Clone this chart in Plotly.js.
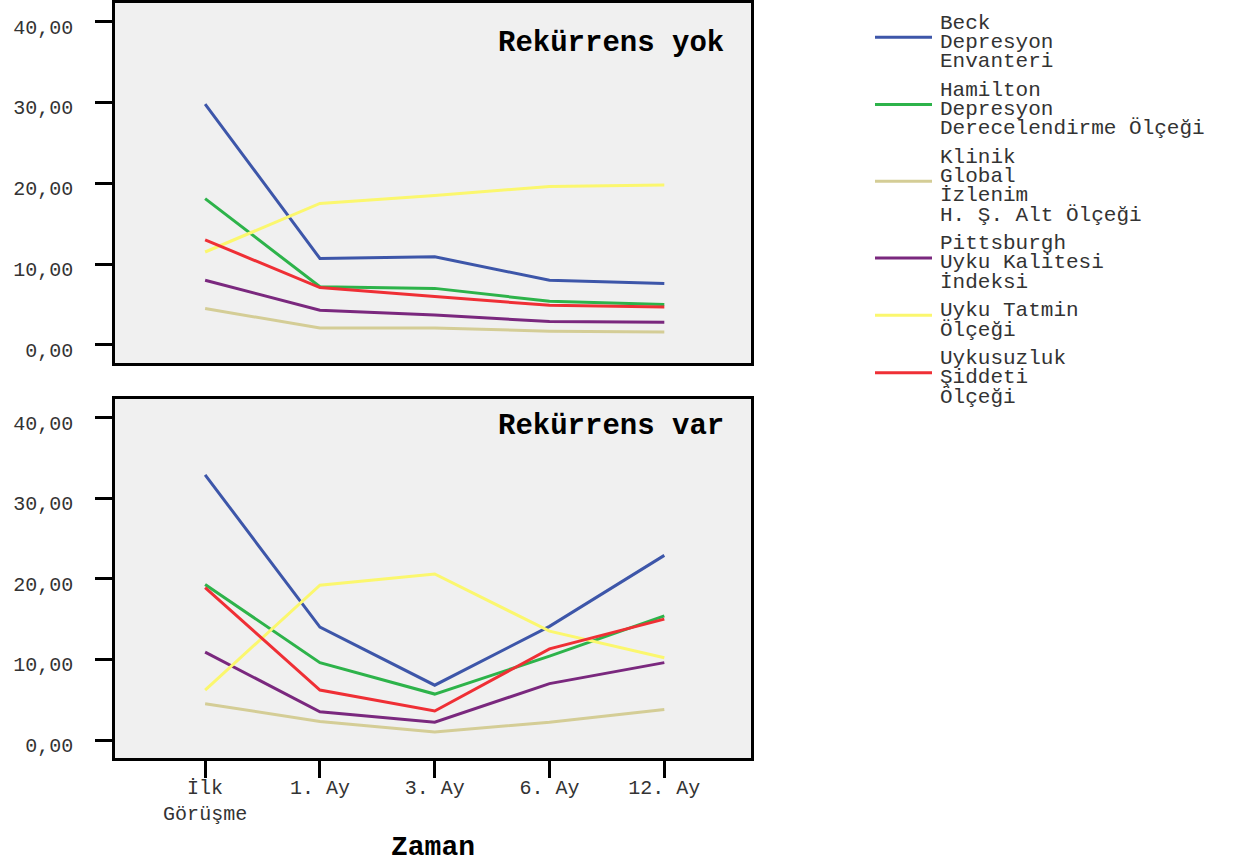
<!DOCTYPE html>
<html><head><meta charset="utf-8">
<script src="https://cdn.plot.ly/plotly-3.0.1.min.js"></script>
<style>html,body{margin:0;padding:0;background:#fff;}#chart{width:1235px;height:863px;}</style>
</head><body><div id="chart"></div>
<script>
// ---- data ----
const timePoints = ["İlk<br>Görüşme", "1. Ay", "3. Ay", "6. Ay", "12. Ay"];
const seriesNames = [
  "Beck<br>Depresyon<br>Envanteri",
  "Hamilton<br>Depresyon<br>Derecelendirme Ölçeği",
  "Klinik<br>Global<br>İzlenim<br>H. Ş. Alt Ölçeği",
  "Pittsburgh<br>Uyku Kalitesi<br>İndeksi",
  "Uyku Tatmin<br>Ölçeği",
  "Uykusuzluk<br>Şiddeti<br>Ölçeği"
];
const seriesColors = ["#3d56a9", "#2db34a", "#d4cd96", "#7a287e", "#fbf76e", "#ef2f35"];
const panelTitles = ["Rekürrens yok", "Rekürrens var"];
const axisTitle = "Zaman";
const yTicks = [0, 10, 20, 30, 40];

// Rekürrens yok
const yokBeck       = [29.8, 10.7, 10.9, 8.0, 7.6];
const yokHamilton   = [18.1, 7.2, 7.0, 5.4, 5.0];
const yokKlinik     = [4.5, 2.1, 2.1, 1.7, 1.6];
const yokPittsburgh = [8.0, 4.3, 3.7, 2.9, 2.8];
const yokUykuTatmin = [11.5, 17.5, 18.5, 19.6, 19.8];
const yokUykusuzluk = [13.0, 7.1, 6.0, 4.9, 4.7];

// Rekürrens var
const varBeck       = [32.9, 14.0, 6.8, 14.1, 22.9];
const varHamilton   = [19.3, 9.6, 5.7, 10.4, 15.4];
const varKlinik     = [4.5, 2.3, 1.0, 2.2, 3.8];
const varPittsburgh = [10.9, 3.5, 2.2, 7.0, 9.6];
const varUykuTatmin = [6.2, 19.2, 20.6, 13.5, 10.2];
const varUykusuzluk = [18.9, 6.2, 3.6, 11.3, 15.0];

const yokSeries = [yokBeck, yokHamilton, yokKlinik, yokPittsburgh, yokUykuTatmin, yokUykusuzluk];
const varSeries = [varBeck, varHamilton, varKlinik, varPittsburgh, varUykuTatmin, varUykusuzluk];

// ---- layout geometry (pixels) ----
const W = 1235, H = 863;
const M = {l: 115, r: 484, t: 3, b: 105};
const PW = W - M.l - M.r, PH = H - M.t - M.b;
const px2x = px => (px - M.l) / PW;
const px2y = py => (H - M.b - py) / PH;

const FONT = "Liberation Mono, Courier New, monospace";
const TXT = "#333333";

const traces = [];
seriesNames.forEach((name, i) => {
  traces.push({x: timePoints, y: varSeries[i], type: "scatter", mode: "lines", name: name,
    line: {color: seriesColors[i], width: 3}, xaxis: "x", yaxis: "y", showlegend: false});
  traces.push({x: timePoints, y: yokSeries[i], type: "scatter", mode: "lines", name: name,
    line: {color: seriesColors[i], width: 3}, xaxis: "x2", yaxis: "y2", showlegend: false});
});

const yAxisBase = {
  range: [-2.23, 42.3], tickvals: yTicks, tickformat: ".2f",
  ticks: "outside", ticklen: 17, tickwidth: 2.5, tickcolor: "#000",
  showline: true, linecolor: "#000", linewidth: 2.5, mirror: true,
  showgrid: false, zeroline: false, ticklabelstandoff: 18, ticklabelshift: 5,
  tickfont: {family: FONT, size: 20, color: TXT}
};
const xAxisBase = {
  type: "category", range: [-0.785, 4.755],
  showline: true, linecolor: "#000", linewidth: 2.5, mirror: true,
  showgrid: false, zeroline: false
};

// legend drawn as text lines + swatches
const annotations = [];
const shapes = [];
const lineH = 19.3, itemGap = 28.5;
let yCur = 23;
seriesNames.forEach((name, i) => {
  const lines = name.split("<br>");
  const first = yCur;
  lines.forEach((ln, k) => {
    annotations.push({xref: "paper", yref: "paper", x: px2x(939), y: px2y(first + k * lineH),
      xanchor: "left", yanchor: "middle", showarrow: false, text: ln, borderpad: 0,
      font: {family: FONT, size: 21, color: TXT}});
  });
  const last = first + (lines.length - 1) * lineH;
  const sy = px2y((first + last) / 2 - 5);
  shapes.push({type: "line", xref: "paper", yref: "paper", x0: px2x(875), x1: px2x(932), y0: sy, y1: sy,
    line: {color: seriesColors[i], width: 3}});
  yCur = last + itemGap;
});

// panel titles
annotations.push({xref: "paper", yref: "paper", x: px2x(726), y: px2y(43), xanchor: "right", yanchor: "middle",
  showarrow: false, text: "<b>" + panelTitles[0] + "</b>", font: {family: FONT, size: 29, color: "#000"}});
annotations.push({xref: "paper", yref: "paper", x: px2x(726), y: px2y(426), xanchor: "right", yanchor: "middle",
  showarrow: false, text: "<b>" + panelTitles[1] + "</b>", font: {family: FONT, size: 29, color: "#000"}});

const layout = {
  width: W, height: H, margin: M,
  paper_bgcolor: "#ffffff", plot_bgcolor: "#f0f0f0",
  separators: ",.",
  showlegend: false,
  xaxis: Object.assign({}, xAxisBase, {anchor: "y",
    ticks: "outside", ticklen: 17, tickwidth: 2.5, tickcolor: "#000", ticklabelstandoff: -8,
    tickfont: {family: FONT, size: 20, color: TXT},
    title: {text: "<b>" + axisTitle + "</b>", font: {family: FONT, size: 28, color: "#000"}, standoff: 22}}),
  xaxis2: Object.assign({}, xAxisBase, {anchor: "y2", matches: "x", ticks: "", showticklabels: false}),
  yaxis: Object.assign({}, yAxisBase, {domain: [0, px2y(399)], anchor: "x"}),
  yaxis2: Object.assign({}, yAxisBase, {domain: [px2y(363), 1], anchor: "x2"}),
  annotations: annotations,
  shapes: shapes
};

Plotly.newPlot("chart", traces, layout, {displayModeBar: false, responsive: false});
</script>
</body></html>
